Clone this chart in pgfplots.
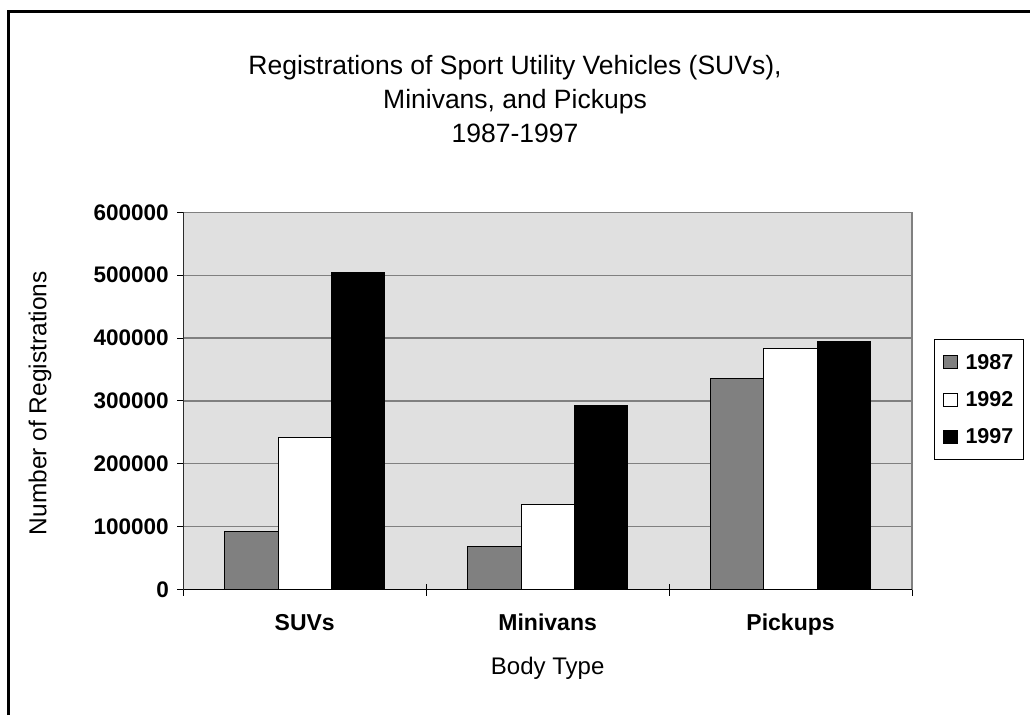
\documentclass[border=0pt]{standalone}
\usepackage{pgfplots}
\pgfplotsset{compat=1.18}
\usepackage{fontspec}
\setmainfont{Liberation Sans}
\definecolor{plotbg}{RGB}{224,224,224}
\definecolor{gridc}{RGB}{128,128,128}
\definecolor{bar87}{RGB}{128,128,128}
\pgfplotsset{legsq/.style={legend image code/.code={\draw[##1,draw=black,line width=1pt] (0pt,-6.5pt) rectangle (14pt,6.5pt);}}}
\begin{document}
\begin{tikzpicture}[x=1pt,y=1pt]
\path[use as bounding box] (0,0) rectangle (1030,715);
\draw[line width=3pt] (8.5,0) -- (8.5,703.5) -- (1030,703.5);
\node[align=center, font=\fontsize{26.5}{34}\selectfont] at (515,616) {Registrations of Sport Utility Vehicles (SUVs),\\Minivans, and Pickups\\1987-1997};
\begin{axis}[
  at={(183.3pt,125.5pt)}, anchor=south west,
  scale only axis, width=728.7pt, height=377.2pt,
  ybar=0pt, bar width=53.3pt,
  xmin=-0.5, xmax=2.5, ymin=0, ymax=600000,
  scaled y ticks=false,
  xtick={-0.5,0.5,1.5,2.5}, x tick label as interval,
  xticklabels={SUVs,Minivans,Pickups},
  ytick={0,100000,200000,300000,400000,500000,600000},
  yticklabels={0,100000,200000,300000,400000,500000,600000},
  xtick pos=bottom, ytick pos=left,
  ytick align=outside, xtick align=center,
  major tick length=6pt,
  tick style={black, line width=1pt},
  xtick style={/pgfplots/major tick length=12pt},
  yticklabel style={font=\bfseries\fontsize{22.5}{22.5}\selectfont, xshift=-5pt},
  xticklabel style={font=\bfseries\fontsize{23}{23}\selectfont, yshift=-18pt},
  ymajorgrids, major grid style={gridc, line width=1.3pt},
  axis background/.style={fill=plotbg},
  axis line style={gridc, line width=1.3pt},
  xlabel={Body Type},
  xlabel style={at={(axis description cs:0.5,-0.208)}, anchor=center, font=\fontsize{24}{24}\selectfont},
  ylabel={Number of Registrations},
  ylabel style={at={(axis description cs:-0.1967,0.494)}, anchor=center, font=\fontsize{24.5}{24.5}\selectfont},
  legend style={at={(1.0302,0.5037)}, anchor=west, draw=black, line width=1pt,
    font=\bfseries\fontsize{21.5}{21.5}\selectfont, row sep=16.5pt, column sep=6pt,
    inner xsep=8pt, inner ysep=13pt},
  legend cell align=left,
]
\addplot[fill=bar87, draw=black, line width=1pt, legsq] coordinates {(0,93000) (1,69000) (2,335000)};
\addplot[fill=white, draw=black, line width=1pt, legsq] coordinates {(0,241000) (1,136000) (2,383000)};
\addplot[fill=black, draw=black, line width=1pt, legsq] coordinates {(0,505000) (1,293000) (2,395000)};
\legend{1987,1992,1997}
\draw[black, line width=1.3pt] (rel axis cs:0,1) -- (rel axis cs:0,0) -- (rel axis cs:1,0);
\end{axis}
\end{tikzpicture}
\end{document}
